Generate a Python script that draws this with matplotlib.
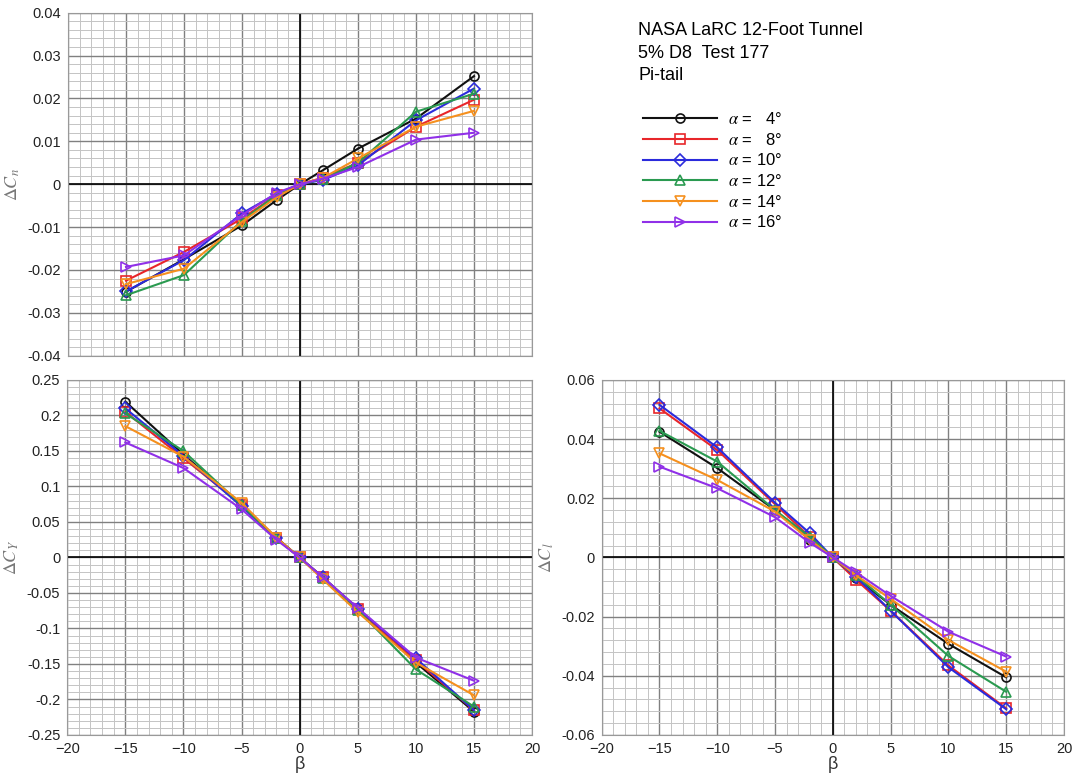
import matplotlib.pyplot as plt
from matplotlib.ticker import MultipleLocator

plt.rcParams['font.family'] = ['Liberation Sans', 'DejaVu Sans']
plt.rcParams['mathtext.fontset'] = 'stix'

beta = [-15, -10, -5, -2, 0, 2, 5, 10, 15]
alphas = [4, 8, 10, 12, 14, 16]
colors = ['#111111', '#e8262a', '#2b2bdc', '#2a9a50', '#f5901e', '#9030e8']
markers = ['o', 's', 'D', '^', 'v', '>']

# delta Cn (yawing moment)
dCn = [
    [-0.0251, -0.0175, -0.0096, -0.0037, 0, 0.0033, 0.0083, 0.0153, 0.0252],
    [-0.0225, -0.0158, -0.0080, -0.0025, 0, 0.0015, 0.0050, 0.0134, 0.0197],
    [-0.0250, -0.0177, -0.0068, -0.0022, 0, 0.0010, 0.0044, 0.0149, 0.0223],
    [-0.0259, -0.0212, -0.0085, -0.0025, 0, 0.0012, 0.0050, 0.0169, 0.0211],
    [-0.0233, -0.0197, -0.0088, -0.0030, 0, 0.0015, 0.0060, 0.0134, 0.0171],
    [-0.0193, -0.0166, -0.0072, -0.0020, 0, 0.0013, 0.0040, 0.0104, 0.0120],
]
# delta CY (side force)
dCY = [
    [0.2195, 0.145, 0.073, 0.028, 0, -0.028, -0.072, -0.148, -0.217],
    [0.205, 0.140, 0.074, 0.027, 0, -0.028, -0.073, -0.145, -0.215],
    [0.210, 0.143, 0.072, 0.027, 0, -0.028, -0.072, -0.142, -0.215],
    [0.203, 0.150, 0.074, 0.027, 0, -0.029, -0.074, -0.1575, -0.210],
    [0.185, 0.142, 0.077, 0.028, 0, -0.031, -0.077, -0.148, -0.194],
    [0.162, 0.126, 0.068, 0.025, 0, -0.028, -0.071, -0.141, -0.1735],
]
# delta Cl (rolling moment)
dCl = [
    [0.0425, 0.0302, 0.016, 0.006, 0, -0.007, -0.016, -0.0292, -0.0405],
    [0.0504, 0.0363, 0.018, 0.007, 0, -0.0075, -0.018, -0.0365, -0.051],
    [0.0516, 0.0372, 0.0185, 0.0082, 0, -0.0065, -0.018, -0.0371, -0.0513],
    [0.0428, 0.0324, 0.016, 0.007, 0, -0.006, -0.016, -0.0333, -0.0454],
    [0.0352, 0.0262, 0.0155, 0.006, 0, -0.006, -0.014, -0.0279, -0.0386],
    [0.0307, 0.0234, 0.0136, 0.005, 0, -0.005, -0.013, -0.0251, -0.0335],
]

fig = plt.figure(figsize=(10.76, 7.78), dpi=100)
ax_n = fig.add_axes([0.0632, 0.5428, 0.4312, 0.4409])
ax_y = fig.add_axes([0.0625, 0.0553, 0.4319, 0.4563])
ax_l = fig.add_axes([0.5592, 0.0553, 0.4296, 0.4563])


def setup(ax, lim, major, minor, label, xlabel=True):
    ax.set_xlim(-20, 20)
    ax.set_ylim(-lim, lim)
    ax.xaxis.set_major_locator(MultipleLocator(5))
    ax.xaxis.set_minor_locator(MultipleLocator(1))
    ax.yaxis.set_major_locator(MultipleLocator(major))
    ax.yaxis.set_minor_locator(MultipleLocator(minor))
    ax.grid(which='major', color='#808080', lw=1.0)
    ax.grid(which='minor', color='#c4c4c4', lw=0.7)
    ax.set_axisbelow(True)
    ax.axhline(0, color='black', lw=1.2, zorder=1.5)
    ax.axvline(0, color='black', lw=1.2, zorder=1.5)
    for s in ax.spines.values():
        s.set_color('#999999')
    ax.tick_params(which='both', length=0, labelsize=10.5, pad=5, colors='#222222')
    ax.yaxis.set_major_formatter(plt.FuncFormatter(lambda v, p: ('%g' % round(v, 4))))
    if xlabel:
        ax.set_xlabel('β', fontsize=13, color='#333333', labelpad=0)
    else:
        ax.tick_params(axis='x', labelbottom=False)
    ax.set_ylabel(label, fontsize=13, color='#777777', labelpad=4)


setup(ax_n, 0.04, 0.01, 0.002, r'$\Delta C_n$', xlabel=False)
setup(ax_y, 0.25, 0.05, 0.01, r'$\Delta C_Y$')
setup(ax_l, 0.06, 0.02, 0.004, r'$\Delta C_l$')

for i, a in enumerate(alphas):
    style = dict(color=colors[i], marker=markers[i], mfc='none', ms=6.5,
                 mew=1.2, lw=1.5)
    ax_n.plot(beta, dCn[i], **style)
    ax_y.plot(beta, dCY[i], **style)
    ax_l.plot(beta, dCl[i], **style)

fig.text(0.593, 0.972, 'NASA LaRC 12-Foot Tunnel\n5% D8  Test 177\nPi-tail',
         fontsize=13, va='top', ha='left', linespacing=1.45)

labels = [r'$\alpha$ =   %d°' % a if a < 10 else r'$\alpha$ = %d°' % a for a in alphas]
handles = ax_n.get_lines()[2:]
fig.legend(handles, labels, loc='upper left', bbox_to_anchor=(0.590, 0.868),
           frameon=False, fontsize=12, handlelength=4.4, labelspacing=0.28,
           handletextpad=0.7, borderpad=0)

fig.savefig('out.png', dpi=100)
